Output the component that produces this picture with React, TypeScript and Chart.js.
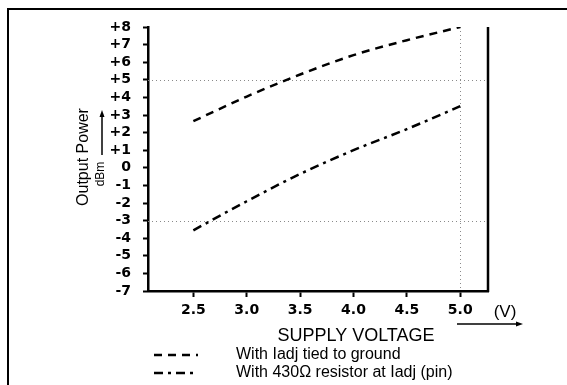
import React, { useEffect, useRef } from "react";
import { Chart, registerables } from "chart.js";

Chart.register(...registerables);

const VOLTAGES = [2.5, 3.0, 3.5, 4.0, 4.5, 5.0];
const IADJ_GROUND = [2.65, 4.05, 5.3, 6.4, 7.25, 8.0];
const IADJ_430 = [-3.55, -1.9, -0.35, 1.0, 2.2, 3.5];
const X_TICKS = [2.5, 3.0, 3.5, 4.0, 4.5, 5.0];
const Y_MIN = -7;
const Y_MAX = 8;
const X_MIN = 2.075;
const X_MAX = 5.26;
const REF_LINES_Y = [5, -3];
const REF_LINE_X = 5.0;
const LEGEND_LABELS = ["With Iadj tied to ground", "With 430\u03A9 resistor at Iadj (pin)"];
const DASH_1 = [8, 6];
const DASH_2 = [9, 5, 3, 5];
const TICK_FONT = "'DejaVu Sans', sans-serif";
const FONT = "'Liberation Sans', Arial, sans-serif";

const overlay = {
  id: "overlay",
  beforeDatasetsDraw(chart: any) {
    const { ctx, scales } = chart;
    const xs = scales.x;
    const ys = scales.y;
    ctx.save();
    ctx.strokeStyle = "#8a8a8a";
    ctx.lineWidth = 1;
    ctx.setLineDash([1, 3]);
    REF_LINES_Y.forEach((v) => {
      const y = Math.round(ys.getPixelForValue(v)) + 0.5;
      ctx.beginPath();
      ctx.moveTo(xs.left, y);
      ctx.lineTo(xs.right, y);
      ctx.stroke();
    });
    const x = Math.round(xs.getPixelForValue(REF_LINE_X)) + 0.5;
    ctx.beginPath();
    ctx.moveTo(x, ys.top);
    ctx.lineTo(x, ys.bottom);
    ctx.stroke();
    ctx.restore();
  },
  afterDraw(chart: any) {
    const { ctx, scales } = chart;
    const xs = scales.x;
    const ys = scales.y;
    ctx.save();
    ctx.setLineDash([]);
    ctx.strokeStyle = "#000";
    ctx.fillStyle = "#000";
    // frame
    ctx.lineWidth = 2;
    ctx.beginPath();
    ctx.moveTo(8, 385);
    ctx.lineTo(8, 9);
    ctx.lineTo(567, 9);
    ctx.stroke();
    // right axis line
    ctx.lineWidth = 2.5;
    ctx.beginPath();
    ctx.moveTo(xs.right, ys.top);
    ctx.lineTo(xs.right, ys.bottom + 1);
    ctx.stroke();

    // y title
    ctx.save();
    ctx.translate(84, 157);
    ctx.rotate(-Math.PI / 2);
    ctx.font = `16px ${FONT}`;
    ctx.textAlign = "center";
    ctx.textBaseline = "middle";
    ctx.fillText("Output Power", 0, 0);
    ctx.restore();
    ctx.save();
    ctx.translate(101, 174);
    ctx.rotate(-Math.PI / 2);
    ctx.font = `12px ${FONT}`;
    ctx.textAlign = "center";
    ctx.textBaseline = "middle";
    ctx.fillText("dBm", 0, 0);
    ctx.restore();
    // up arrow
    ctx.lineWidth = 1.5;
    ctx.beginPath();
    ctx.moveTo(102, 155);
    ctx.lineTo(102, 115);
    ctx.stroke();
    ctx.beginPath();
    ctx.moveTo(102, 110);
    ctx.lineTo(99.5, 117);
    ctx.lineTo(104.5, 117);
    ctx.closePath();
    ctx.fill();

    // (V) and arrow
    ctx.font = `17px ${FONT}`;
    ctx.textAlign = "center";
    ctx.textBaseline = "middle";
    ctx.fillText("(V)", 505, 312);
    ctx.lineWidth = 1.5;
    ctx.beginPath();
    ctx.moveTo(457, 324);
    ctx.lineTo(518, 324);
    ctx.stroke();
    ctx.beginPath();
    ctx.moveTo(523, 324);
    ctx.lineTo(516, 321.5);
    ctx.lineTo(516, 326.5);
    ctx.closePath();
    ctx.fill();

    // x title
    ctx.font = `18px ${FONT}`;
    ctx.fillText("SUPPLY VOLTAGE", 356, 336);

    // legend
    const rows = [
      { y: 355, dash: DASH_1, label: LEGEND_LABELS[0] },
      { y: 373, dash: DASH_2, label: LEGEND_LABELS[1] },
    ];
    rows.forEach((r) => {
      ctx.lineWidth = 2.5;
      ctx.setLineDash(r.dash);
      ctx.beginPath();
      ctx.moveTo(154, r.y);
      ctx.lineTo(198, r.y);
      ctx.stroke();
      ctx.setLineDash([]);
      ctx.font = `16px ${FONT}`;
      ctx.textAlign = "left";
      ctx.fillText(r.label, 236, r.y);
    });
    ctx.restore();
  },
};

export default function App() {
  const ref = useRef<HTMLCanvasElement | null>(null);
  useEffect(() => {
    if (!ref.current) return;
    const chart = new Chart(ref.current, {
      type: "line",
      data: {
        datasets: [
          {
            label: LEGEND_LABELS[0],
            data: VOLTAGES.map((v, i) => ({ x: v, y: IADJ_GROUND[i] })),
            borderColor: "#000",
            borderWidth: 2.5,
            borderDash: DASH_1,
            pointRadius: 0,
            cubicInterpolationMode: "monotone",
            fill: false,
          },
          {
            label: LEGEND_LABELS[1],
            data: VOLTAGES.map((v, i) => ({ x: v, y: IADJ_430[i] })),
            borderColor: "#000",
            borderWidth: 2.5,
            borderDash: DASH_2,
            pointRadius: 0,
            cubicInterpolationMode: "monotone",
            fill: false,
          },
        ],
      },
      options: {
        animation: false,
        responsive: false,
        maintainAspectRatio: false,
        layout: { padding: { left: 0, right: 79, top: 27, bottom: 0 } },
        plugins: { legend: { display: false }, tooltip: { enabled: false } },
        scales: {
          x: {
            type: "linear",
            min: X_MIN,
            max: X_MAX,
            afterBuildTicks: (s: any) => {
              s.ticks = X_TICKS.map((v) => ({ value: v }));
            },
            afterFit: (s: any) => {
              s.height = 94;
            },
            ticks: {
              color: "#000",
              font: { family: TICK_FONT, size: 14, weight: "bold" },
              padding: 5,
              maxRotation: 0,
              autoSkip: false,
              callback: (v: any) => Number(v).toFixed(1),
            },
            grid: {
              drawOnChartArea: false,
              tickLength: 6,
              tickWidth: 2,
              tickColor: "#000",
            },
            border: { color: "#000", width: 2.5 },
          },
          y: {
            type: "linear",
            min: Y_MIN,
            max: Y_MAX,
            afterFit: (s: any) => {
              s.width = 148;
            },
            ticks: {
              stepSize: 1,
              color: "#000",
              font: { family: TICK_FONT, size: 14, weight: "bold" },
              padding: 12,
              autoSkip: false,
              callback: (v: any) => (v > 0 ? "+" + v : String(v)),
            },
            grid: {
              drawOnChartArea: false,
              tickLength: 5,
              tickWidth: 2,
              tickColor: "#000",
            },
            border: { color: "#000", width: 2.5 },
          },
        },
      },
      plugins: [overlay],
    } as any);
    return () => chart.destroy();
  }, []);
  return (
    <div style={{ position: "fixed", left: 0, top: 0, width: 567, height: 385, background: "#fff" }}>
      <canvas ref={ref} width={567} height={385} />
    </div>
  );
}
